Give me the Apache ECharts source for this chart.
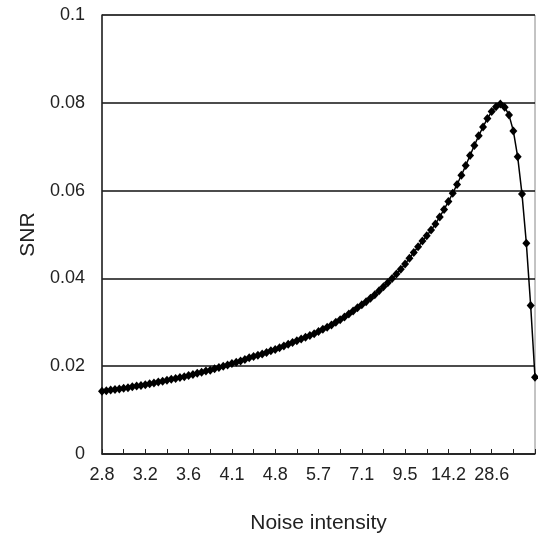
<!DOCTYPE html>
<html>
<head>
<meta charset="utf-8">
<script src="https://cdn.jsdelivr.net/npm/echarts@6/dist/echarts.min.js"></script>
<style>
html,body{margin:0;padding:0;background:#fff;}
#chart{width:538px;height:541px;}
</style>
</head>
<body>
<div id="chart"></div>
<script>
// Tick labels shown every 10th sample (noise intensity)
const noiseLabels = ['2.8','3.2','3.6','4.1','4.8','5.7','7.1','9.5','14.2','28.6',''];

// SNR values, one per sample (101 samples)
const snrValues = [
  0.0143,0.0144,0.0146,0.0147,0.0148,0.0150,0.0151,0.0153,0.0155,0.0156,
  0.0158,0.0160,0.0162,0.0164,0.0166,0.0168,0.0170,0.0172,0.0174,0.0176,
  0.0179,0.0181,0.0184,0.0186,0.0189,0.0191,0.0194,0.0197,0.0200,0.0203,
  0.0206,0.0209,0.0212,0.0215,0.0219,0.0222,0.0225,0.0228,0.0231,0.0235,
  0.0238,0.0242,0.0246,0.0250,0.0254,0.0258,0.0262,0.0266,0.0270,0.0274,
  0.0279,0.0284,0.0289,0.0294,0.0300,0.0306,0.0312,0.0319,0.0326,0.0333,
  0.0340,0.0347,0.0355,0.0363,0.0372,0.0381,0.0390,0.0400,0.0410,0.0421,
  0.0433,0.0446,0.0459,0.0472,0.0485,0.0497,0.0510,0.0524,0.0540,0.0557,
  0.0575,0.0594,0.0614,0.0635,0.0657,0.0680,0.0703,0.0725,0.0745,0.0764,
  0.0780,0.0791,0.0797,0.0790,0.0772,0.0736,0.0677,0.0592,0.0480,0.0338,
  0.0175
];

const sampleIndex = snrValues.map((_, i) => i);

const chart = echarts.init(document.getElementById('chart'), null, {renderer: 'canvas'});
const font = 'Liberation Sans, Arial, sans-serif';
chart.setOption({
  backgroundColor: '#fff',
  animation: false,
  grid: {
    left: 102, right: 1, top: 15, bottom: 87,
    show: true, borderColor: '#888', borderWidth: 1, backgroundColor: 'transparent'
  },
  xAxis: {
    type: 'category',
    data: sampleIndex,
    boundaryGap: false,
    name: 'Noise intensity',
    nameLocation: 'middle',
    nameGap: 59,
    nameTextStyle: {fontSize: 21, color: '#222', fontFamily: font},
    axisLine: {lineStyle: {color: '#222', width: 1.5}},
    axisTick: {show: true, inside: true, length: 5, interval: 4, lineStyle: {color: '#222', width: 1}},
    axisLabel: {
      interval: 9, margin: 12, fontSize: 18, color: '#222', fontFamily: font,
      formatter: (v, idx) => (idx % 10 === 0 ? (noiseLabels[idx / 10] || '') : '')
    },
    splitLine: {show: false}
  },
  yAxis: {
    type: 'value',
    min: 0, max: 0.1, interval: 0.02,
    name: 'SNR',
    nameLocation: 'middle',
    nameGap: 61,
    nameRotate: 90,
    nameTextStyle: {fontSize: 21, color: '#222', fontFamily: font},
    axisLine: {show: true, lineStyle: {color: '#222', width: 1.5}},
    axisTick: {show: false},
    axisLabel: {
      margin: 17, fontSize: 18, color: '#222', fontFamily: font,
      formatter: v => (v === 0 ? '0' : String(+v.toFixed(2)))
    },
    splitLine: {show: true, lineStyle: {color: '#111', width: 1.6}}
  },
  series: [{
    type: 'line',
    data: snrValues,
    symbol: 'diamond',
    symbolSize: [8, 9],
    showAllSymbol: true,
    lineStyle: {color: '#000', width: 1.5},
    itemStyle: {color: '#000'},
    clip: false
  }]
});
</script>
</body>
</html>
